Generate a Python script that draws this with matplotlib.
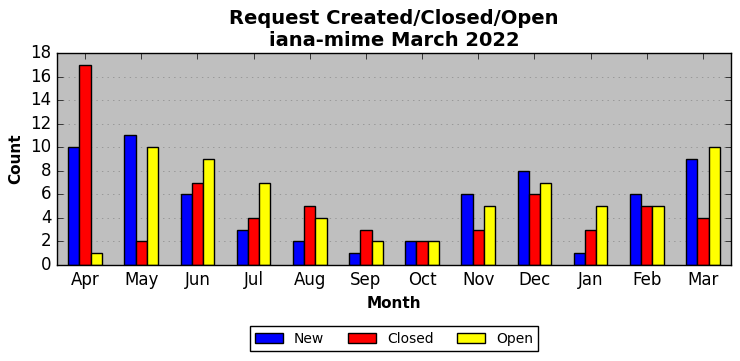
import numpy as np
import matplotlib
matplotlib.use('Agg')
import matplotlib.pyplot as plt

# Data
months = ['Apr', 'May', 'Jun', 'Jul', 'Aug', 'Sep', 'Oct', 'Nov', 'Dec', 'Jan', 'Feb', 'Mar']
new = [10, 11, 6, 3, 2, 1, 2, 6, 8, 1, 6, 9]
closed = [17, 2, 7, 4, 5, 3, 2, 3, 6, 3, 5, 4]
opened = [1, 10, 9, 7, 4, 2, 2, 5, 7, 5, 5, 10]

plt.style.use('classic')
fig = plt.figure(figsize=(7.4, 3.61), dpi=100)
ax = fig.add_axes([57 / 740, 1 - 265 / 361, 674 / 740, 212 / 361])

x = np.arange(len(months))
w = 0.2
ax.bar(x - w, new, w, color='blue', edgecolor='black', label='New', align='center')
ax.bar(x, closed, w, color='red', edgecolor='black', label='Closed', align='center')
ax.bar(x + w, opened, w, color='yellow', edgecolor='black', label='Open', align='center')

ax.set_facecolor('#bfbfbf')
ax.set_xlim(-0.5, len(months) - 0.5)
ax.set_ylim(0, 18)
ax.set_yticks(range(0, 19, 2))
ax.set_xticks(x)
ax.set_xticklabels(months)
ax.yaxis.grid(True, linestyle=':', color='#888888')
ax.set_axisbelow(True)

ax.set_title('Request Created/Closed/Open\niana-mime March 2022', fontsize=14, fontweight='bold')
ax.set_xlabel('Month', fontsize=11, fontweight='bold')
ax.set_ylabel('Count', fontsize=11, fontweight='bold')

ax.legend(loc='upper center', bbox_to_anchor=(0.5, -0.255), ncol=3, fontsize=10,
          columnspacing=1.7)

fig.savefig('out.png', dpi=100)
